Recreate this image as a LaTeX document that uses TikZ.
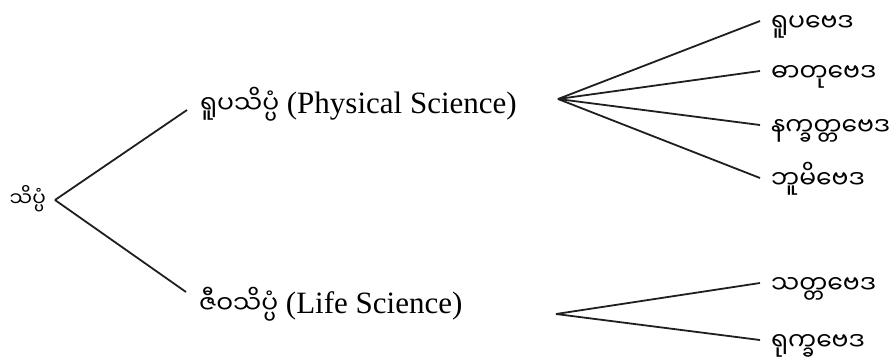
\documentclass[tikz,border=0pt]{standalone}
\usepackage{fontspec}
\setmainfont{Liberation Serif}
\newfontfamily\mya[Script=Myanmar]{Noto Sans Myanmar UI}
\usetikzlibrary{positioning}

\begin{document}
\begin{tikzpicture}[
      x=1pt, y=-1pt,
      node distance=10pt and 202pt,
      branch/.style={inner xsep=2pt, inner ysep=0pt, anchor=west, text height=21pt, text depth=0pt, font=\fontsize{31}{36}\selectfont},
      leaf/.style={inner xsep=11pt, inner ysep=0pt, anchor=west, text height=20pt, text depth=0pt, font=\mya\fontsize{25}{30}\selectfont},
      twig/.style={line width=1.8pt, black!88}
    ]
    \useasboundingbox (0,0) rectangle (892,360);

    \node[inner xsep=9pt, inner ysep=0pt, anchor=east, text height=12pt, text depth=0pt, font=\mya\fontsize{20}{24}\selectfont] (root) at (55,200) {သိပ္ပံ};

    \node[branch] (phys) at (198,103) {{\mya\fontsize{25}{30}\selectfont ရူပသိပ္ပံ} (Physical Science)};
    \node[branch] (life) at (197,303) {{\mya\fontsize{25}{30}\selectfont ဇီဝသိပ္ပံ} (Life Science)};

    \coordinate (physfan) at (558,99);
    \coordinate (lifefan) at (556,314);

    \node[leaf, right=of physfan, yshift=78pt] (rupa) {ရူပဗေဒ};
    \node[leaf, right=of physfan, yshift=28pt] (datu) {ဓာတုဗေဒ};
    \node[leaf, right=of physfan, yshift=-26pt] (nakkhat) {နက္ခတ္တဗေဒ};
    \node[leaf, right=of physfan, yshift=-79pt] (bumi) {ဘူမိဗေဒ};
    \node[leaf, right=204pt of lifefan, yshift=31pt] (tatta) {သတ္တဗေဒ};
    \node[leaf, right=204pt of lifefan, yshift=-26pt] (rukkha) {ရုက္ခဗေဒ};

    \draw[twig] (root.east) -- ([xshift=-11pt, yshift=-7pt]phys.west);
    \draw[twig] (root.east) -- ([xshift=-11pt, yshift=11pt]life.west);
    \draw[twig] (physfan) -- (rupa.west);
    \draw[twig] (physfan) -- (datu.west);
    \draw[twig] (physfan) -- (nakkhat.west);
    \draw[twig] (physfan) -- (bumi.west);
    \draw[twig] (lifefan) -- (tatta.west);
    \draw[twig] (lifefan) -- (rukkha.west);
  \end{tikzpicture}
\end{document}
